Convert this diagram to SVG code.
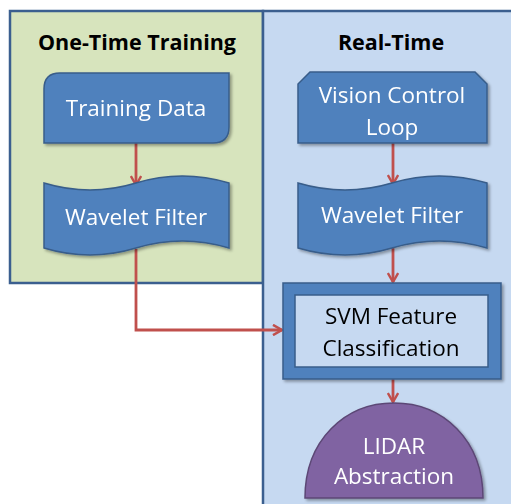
<svg xmlns="http://www.w3.org/2000/svg" width="511" height="504" viewBox="0 0 511 504">
<defs>
<style>
.panel{stroke:#3b5f8f;stroke-width:2.5}
.node{fill:#4f81bd;stroke:#385d8a;stroke-width:1.5}
.wt{font-family:"Open Sans","Liberation Sans",sans-serif;font-size:22.5px;fill:#ffffff;text-anchor:middle}
.bt{font-family:"Open Sans","Liberation Sans",sans-serif;font-size:22.5px;fill:#000000;text-anchor:middle}
.title{font-family:"Open Sans","Liberation Sans",sans-serif;font-size:21.5px;font-weight:bold;fill:#000000;text-anchor:middle}
.conn{fill:none;stroke:#c0504d;stroke-width:2.8}
</style>
<marker id="arr" viewBox="0 0 10 10" refX="8.5" refY="5" markerWidth="4.6" markerHeight="4.6" orient="auto" markerUnits="strokeWidth">
<polyline points="1.5,1 8.5,5 1.5,9" fill="none" stroke="#c0504d" stroke-width="1.9" stroke-linejoin="miter"/>
</marker>
<filter id="sh" x="-10%" y="-10%" width="130%" height="130%">
<feGaussianBlur in="SourceAlpha" stdDeviation="1.5"/>
<feOffset dx="2" dy="2" result="b"/>
<feComponentTransfer><feFuncA type="linear" slope="0.35"/></feComponentTransfer>
<feMerge><feMergeNode/><feMergeNode in="SourceGraphic"/></feMerge>
</filter>
</defs>
<rect width="511" height="504" fill="#ffffff"/>
<g id="panel-training">
<rect class="panel" x="10" y="11" width="253" height="272" fill="#d7e4bd"/>
<text class="title" x="137" y="50">One-Time Training</text>
</g>
<g id="panel-realtime">
<rect class="panel" x="263" y="11" width="260" height="500" fill="#c6d9f1"/>
<text class="title" x="391" y="50">Real-Time</text>
</g>
<g id="connectors">
<line class="conn" x1="136" y1="143" x2="136" y2="185" marker-end="url(#arr)"/>
<polyline class="conn" points="136,249 136,330 282,330" marker-end="url(#arr)"/>
<line class="conn" x1="393" y1="143" x2="393" y2="184" marker-end="url(#arr)"/>
<line class="conn" x1="393" y1="248" x2="393" y2="282" marker-end="url(#arr)"/>
<line class="conn" x1="393" y1="379" x2="393" y2="402" marker-end="url(#arr)"/>
</g>
<g id="training-data" filter="url(#sh)">
<path class="node" d="M44,143 L44,89 Q44,73 60,73 L229,73 L229,127 Q229,143 213,143 Z"/>
<text class="wt" x="136" y="116">Training Data</text>
</g>
<g id="wavelet-filter-1" filter="url(#sh)">
<path class="node" d="M44,183 Q90,197 136,183 Q182,169 229,183 L229,248 Q182,234 136,248 Q90,262 44,248 Z"/>
<text class="wt" x="136" y="225">Wavelet Filter</text>
</g>
<g id="vision-control-loop" filter="url(#sh)">
<path class="node" d="M298,143 L298,84 L310,72 L475,72 L487,84 L487,143 Z"/>
<text class="wt" x="392" y="103">Vision Control</text>
<text class="wt" x="392" y="135">Loop</text>
</g>
<g id="wavelet-filter-2" filter="url(#sh)">
<path class="node" d="M298,183 Q345,197 392,183 Q439,169 487,183 L487,248 Q439,234 392,248 Q345,262 298,248 Z"/>
<text class="wt" x="392" y="223">Wavelet Filter</text>
</g>
<g id="svm" filter="url(#sh)">
<rect x="283" y="283" width="218" height="96" fill="#4f81bd" stroke="#385d8a" stroke-width="1.5"/>
<rect x="295" y="295" width="193" height="72" fill="#c6d9f1" stroke="#385d8a" stroke-width="1.5"/>
<text class="bt" x="391" y="324">SVM Feature</text>
<text class="bt" x="391" y="356">Classification</text>
</g>
<g id="lidar" filter="url(#sh)">
<path d="M305,498 C305,440 345,403 394,403 C443,403 483,440 483,498 Z" fill="#8064a2" stroke="#5c4776" stroke-width="1.5"/>
<text class="wt" x="394" y="454">LIDAR</text>
<text class="wt" x="394" y="484">Abstraction</text>
</g>
</svg>
